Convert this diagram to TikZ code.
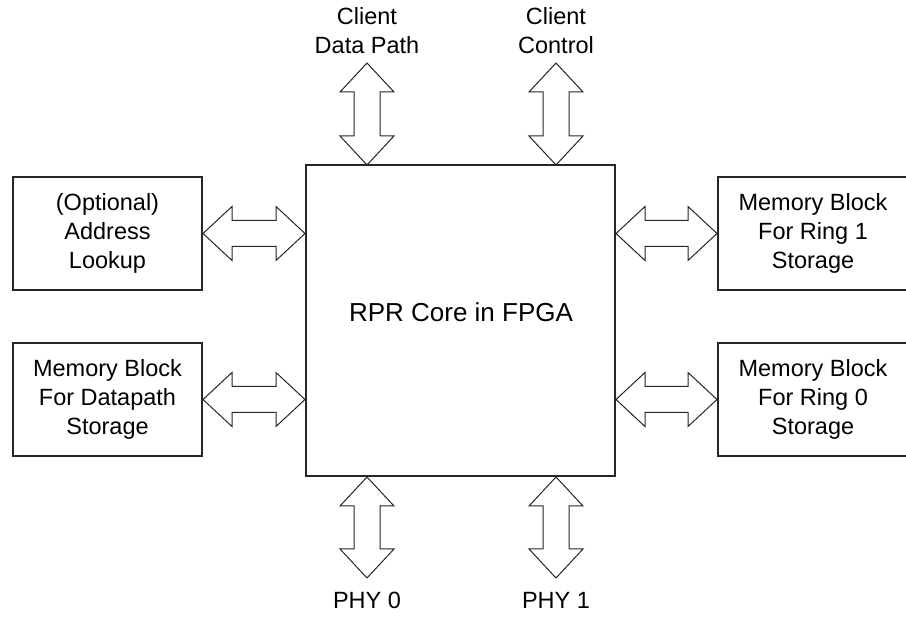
\documentclass[tikz,border=0pt]{standalone}
\usepackage{fontspec}
\setmainfont{Liberation Sans}
\usetikzlibrary{calc}
\tikzset{
  box/.style={draw=black!85, line width=2pt, minimum width=189pt, minimum height=113pt, inner sep=0pt, align=center,
    font=\fontsize{23.5}{29}\selectfont},
  lbl/.style={inner sep=0pt, align=center, font=\fontsize{23.5}{29}\selectfont},
  arr/.style={draw=black!85, line width=1pt, fill=white, line join=miter},
}
\newcommand\dblarr[2]{%
  \coordinate (h1) at ($(#1)!29pt!(#2)$);
  \coordinate (h2) at ($(#2)!29pt!(#1)$);
  \draw[arr] (#1) -- ($(h1)!27pt!90:(#2)$) -- ($(h1)!13pt!90:(#2)$) -- ($(h2)!13pt!-90:(#1)$)
    -- ($(h2)!27pt!-90:(#1)$) -- (#2) -- ($(h2)!27pt!90:(#1)$) -- ($(h2)!13pt!90:(#1)$)
    -- ($(h1)!13pt!-90:(#2)$) -- ($(h1)!27pt!-90:(#2)$) -- cycle;
}
\begin{document}
\begin{tikzpicture}[x=1pt, y=-1pt]
\useasboundingbox (0,0) rectangle (906,617);
% core
\node[draw=black!85, line width=2pt, minimum width=309pt, minimum height=311pt, inner sep=0pt] (core) at (460.5,320.5) {};
\node[lbl, font=\fontsize{26}{31}\selectfont] (corelbl) at (461,312) {RPR Core in FPGA};
% side boxes
\node[box] (addr) at (107.5,233.5) {(Optional)\\Address\\Lookup};
\node[box] (dmem) at (107.5,399.5) {Memory Block\\For Datapath\\Storage};
\node[box, minimum width=204pt, label={[lbl, xshift=-7pt]center:{Memory Block\\For Ring 1\\Storage}}] (r1) at (820,233.5) {};
\node[box, minimum width=204pt, label={[lbl, xshift=-7pt]center:{Memory Block\\For Ring 0\\Storage}}] (r0) at (820,399.5) {};
% labels
\node[lbl] (cdp) at (367,31) {Client\\Data Path};
\node[lbl] (cc) at (556,31) {Client\\Control};
\node[lbl] (phy0) at (367,600) {PHY 0};
\node[lbl] (phy1) at (556,600) {PHY 1};
% arrow end points
\coordinate (cdpT) at (367,63);
\coordinate (cdpB) at (367,165);
\coordinate (ccT) at (556,63);
\coordinate (ccB) at (556,165);
\coordinate (p0T) at (367,477);
\coordinate (p0B) at (367,578);
\coordinate (p1T) at (556,477);
\coordinate (p1B) at (556,578);
% arrows
\dblarr{cdpT}{cdpB}
\dblarr{ccT}{ccB}
\dblarr{p0T}{p0B}
\dblarr{p1T}{p1B}
\dblarr{addr.east}{core.west |- addr.east}
\dblarr{dmem.east}{core.west |- dmem.east}
\dblarr{core.east |- r1.west}{r1.west}
\dblarr{core.east |- r0.west}{r0.west}
\end{tikzpicture}
\end{document}
